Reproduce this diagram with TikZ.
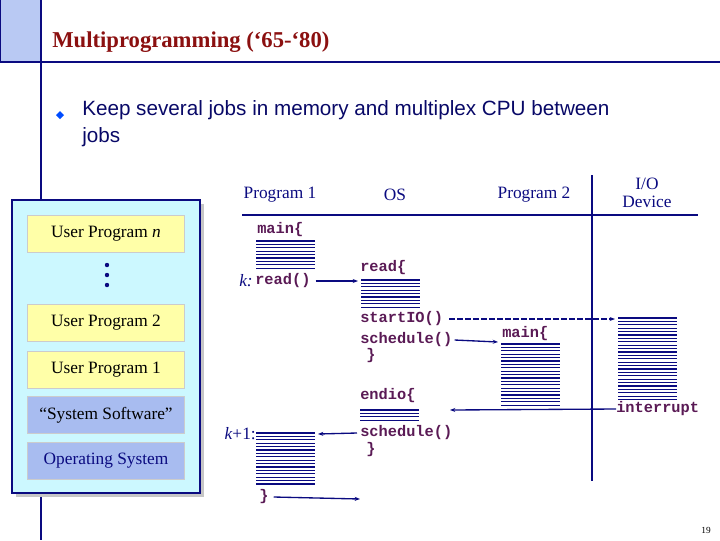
\documentclass[tikz,border=0pt]{standalone}
\usepackage{fontspec}
\setmainfont{Liberation Serif}
\newfontfamily\sansf{Liberation Sans}
\newfontfamily\monof{Liberation Mono}
\usetikzlibrary{arrows.meta}
\definecolor{navy}{HTML}{0A0A80}
\definecolor{codec}{HTML}{5A1A55}
\definecolor{ttl}{HTML}{8B1010}
\definecolor{memb}{HTML}{CCF8FF}
\definecolor{upc}{HTML}{FFFFA8}
\definecolor{sysc}{HTML}{A8BCF0}
\begin{document}
\begin{tikzpicture}[x=0.75pt,y=-0.75pt,
  code/.style={text=codec,font=\monof\bfseries\fontsize{11.5}{12}\selectfont,inner sep=0pt,anchor=west},
  lab/.style={text=navy,font=\fontsize{13}{14}\selectfont,inner sep=0pt},
  prog/.style={draw=gray!40,fill=#1,minimum width=118pt,minimum height=28pt,font=\fontsize{13}{14}\selectfont,text=black,inner sep=0pt},
  arr/.style={navy,line width=1pt,-{Stealth[length=4pt,width=3pt]}},
  bar/.style={navy,line width=0.9pt}]
\useasboundingbox (0,0) rectangle (720,540);
\newcommand{\mystack}[4]{% x0,x1,y0,last index
  \foreach \ii in {0,...,#4} \draw[bar] (#1,{#3+3.4*\ii}) -- (#2,{#3+3.4*\ii});}
% frame
\fill[sysc!80] (0,0) rectangle (40,62);
\draw[navy,line width=1.5pt] (41,0) -- (41,540);
\draw[navy,line width=1.5pt] (0,62) -- (720,62);
\draw[navy,line width=1pt] (0,0) -- (0,62);
\node[text=ttl,font=\bfseries\fontsize{17}{18}\selectfont,anchor=west,inner sep=0pt] (title) at (52,42) {Multiprogramming (‘65-‘80)};
\fill[blue!70!cyan] (56,115) -- (60,111) -- (64,115) -- (60,119) -- cycle;
\node[anchor=north west,align=left,text=navy!80!black,font=\sansf\fontsize{15.5}{20.5}\selectfont,inner sep=0pt] (bul) at (82,100) {Keep several jobs in memory and multiplex CPU between\\jobs};
% memory
\fill[gray!45] (16,204) rectangle (204,497);
\draw[navy,line width=1pt,fill=memb] (12,200) rectangle (200,493);
\node[prog=upc] (upn) at (106,234) {User Program \textit{n}};
\node[prog=upc] (up2) at (106,323) {User Program 2};
\node[prog=upc] (up1) at (106,370) {User Program 1};
\node[prog=sysc] (ss) at (106,415) {“System Software”};
\node[prog=sysc,text=navy] (os) at (106,461) {Operating System};
\foreach \yy in {265,275,285} \fill[navy] (107,\yy) circle (2.2);
% headers
\node[lab] (p1) at (280,195) {Program 1};
\node[lab] (osh) at (395,195) {OS};
\node[lab] (p2) at (534,195) {Program 2};
\node[lab,align=center] (io) at (647,193) {I/O\\Device};
\draw[navy,line width=2pt] (242,215) -- (698,215);
\draw[navy,line width=2pt] (592,175) -- (592,481);
% stacks
\mystack{256}{315}{241}{8}
\mystack{361}{420}{280}{8}
\mystack{501}{560}{344}{18}
\mystack{618}{677}{318}{24}
\mystack{360}{419}{410}{3}
\mystack{256}{315}{433}{15}
% code texts
\node[code] (m1) at (257,230) {main\{};
\node[lab,anchor=east,font=\itshape\fontsize{13}{14}\selectfont] (k) at (253,281) {k:};
\node[code] (rd) at (255,281) {read()};
\node[code] (rdo) at (360,268) {read\{};
\node[code] (sio) at (360,319) {startIO()};
\node[code] (sch) at (360,340) {schedule()};
\node[code] (c1) at (366,356) {\}};
\node[code] (m2) at (502,334) {main\{};
\node[code] (eio) at (360,396) {endio\{};
\node[code] (sch2) at (360,433) {schedule()};
\node[code] (c2) at (366,450) {\}};
\node[lab,anchor=east] (k1) at (256,434) {\textit{k}+1:};
\node[code] (c3) at (259,497) {\}};
\node[code] (intr) at (616,409) {interrupt};
\coordinate (rdin) at (358,281);
\coordinate (ioin) at (615,319);
\coordinate (m2in) at (498,342);
\coordinate (eioin) at (450,410);
\coordinate (k1in) at (318,434);
\coordinate (c3out) at (360,499);
\draw[arr] (rd.east) ++(5,0) -- (rdin);
\draw[arr,dash pattern=on 4pt off 2pt] (sio.east) ++(6,0) -- (ioin);
\draw[arr] (sch.east) ++(2,0) -- (m2in);
\draw[arr] (intr.west) -- (eioin);
\draw[arr] (sch2.west) ++(-3,0) -- (k1in);
\draw[arr] (c3.east) ++(5,0) -- (c3out);
\node[font=\fontsize{7}{8}\selectfont,inner sep=0pt] (pg) at (706,530) {19};
\end{tikzpicture}
\end{document}
